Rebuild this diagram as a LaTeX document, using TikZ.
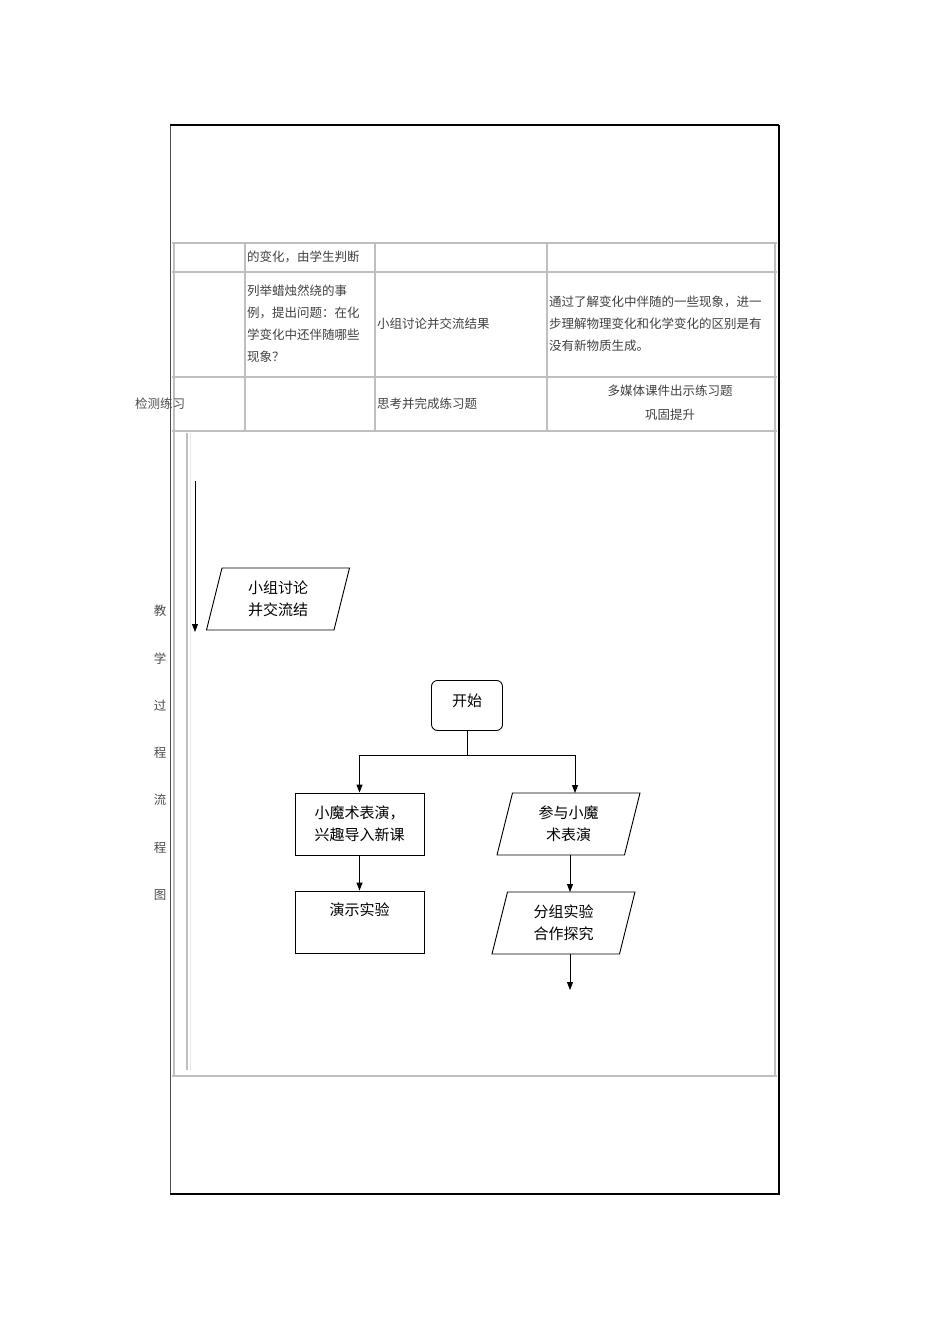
\documentclass[tikz,border=0pt]{standalone}
\usepackage{fontspec}
\newfontfamily\cjk{Noto Sans CJK SC}
\usetikzlibrary{shapes.geometric,arrows.meta}
\tikzset{
 grid/.style={draw=black!25,line width=1.2pt},
 tcell/.style={font=\cjk\fontsize{12.5}{22}\selectfont,text=black!75,anchor=west,align=left,inner sep=1pt},
 fbox/.style={draw,line width=0.9pt,font=\cjk\fontsize{15}{22}\selectfont,align=center,minimum width=129pt,minimum height=62pt,inner sep=2pt},
 para/.style={draw,line width=0.9pt,trapezium,trapezium left angle=70,trapezium right angle=110,font=\cjk\fontsize{15}{22}\selectfont,align=center,minimum height=62pt,text width=112pt,inner xsep=0pt,trapezium stretches body},
 arr/.style={-{Triangle[length=8pt,width=6pt]},line width=0.9pt},
 side/.style={font=\cjk\fontsize{12.5}{14}\selectfont,text=black!70}
}
\begin{document}
\begin{tikzpicture}[x=1pt,y=-1pt]
\useasboundingbox (0,0) rectangle (950,1344);
% outer frame
\draw[black!70,line width=1pt] (170,125) -- (170,1194);
\draw[line width=1.2pt] (170,125) -- (779,125);
\draw[line width=2.5pt] (779,125) -- (779,1194);
\draw[line width=2.5pt] (170,1194) -- (780,1194);
% table grid
\foreach \y in {243,272,377,431,1076} \draw[grid] (172,\y) -- (777,\y);
\foreach \x in {174,245,375,547} \draw[grid] (\x,243) -- (\x,431);
\draw[grid] (775,243) -- (775,1076);
\draw[grid] (174,431) -- (174,1076);
\draw[grid] (187,433) -- (187,1070);
\draw[black!10,line width=1pt] (190,433) -- (190,1070);
% texts
\node[tcell] (t1) at (246,257) {的变化，由学生判断};
\node[tcell] (t2) at (246,324) {列举蜡烛然绕的事\\例，提出问题：在化\\学变化中还伴随哪些\\现象？};
\node[tcell] (t3) at (376,324) {小组讨论并交流结果};
\node[tcell] (t4) at (548,324) {通过了解变化中伴随的一些现象，进一\\步理解物理变化和化学变化的区别是有\\没有新物质生成。};
\node[tcell] (t5) at (376,404) {思考并完成练习题};
\node[tcell,anchor=center,align=center,font=\cjk\fontsize{12.5}{24}\selectfont] (t6) at (670,403) {多媒体课件出示练习题\\巩固提升};
\node[side] (t7) at (160,404) {检测练习};
\foreach \c/\y in {教/611,学/659,过/706,程/753,流/800,程/848,图/895}
  \node[side] at (160,\y) {\c};
% flowchart
\coordinate (a0) at (195,481);
\coordinate (a1) at (195,632);
\draw[arr] (a0) -- (a1);
\node[para] (p0) at (278,599) {小组讨论\\并交流结};
\node[draw,line width=0.9pt,rounded corners=6pt,minimum width=71pt,minimum height=50pt,font=\cjk\fontsize{15}{18}\selectfont,anchor=north,inner sep=0pt] (s) at (467,680) {\raisebox{10pt}{开始}};
\node[fbox] (b1) at (359.5,824) {小魔术表演，\\兴趣导入新课};
\node[para] (p1) at (568.5,824) {参与小魔\\术表演};
\node[fbox,text depth=26pt] (b2) at (359.5,922) {演示实验};
\node[para] (p2) at (563.5,923) {分组实验\\合作探究};
\coordinate (j) at (467,755);
\coordinate (e) at (570,990);
\draw[line width=0.9pt] (s.south) -- (j);
\draw[arr] (j) -| (b1.north);
\draw[arr] (j) -| (575,793);
\draw[arr] (b1) -- (b2);
\draw[arr] (570,855) -- (570,892);
\draw[arr] (570,954) -- (e);
\end{tikzpicture}
\end{document}
